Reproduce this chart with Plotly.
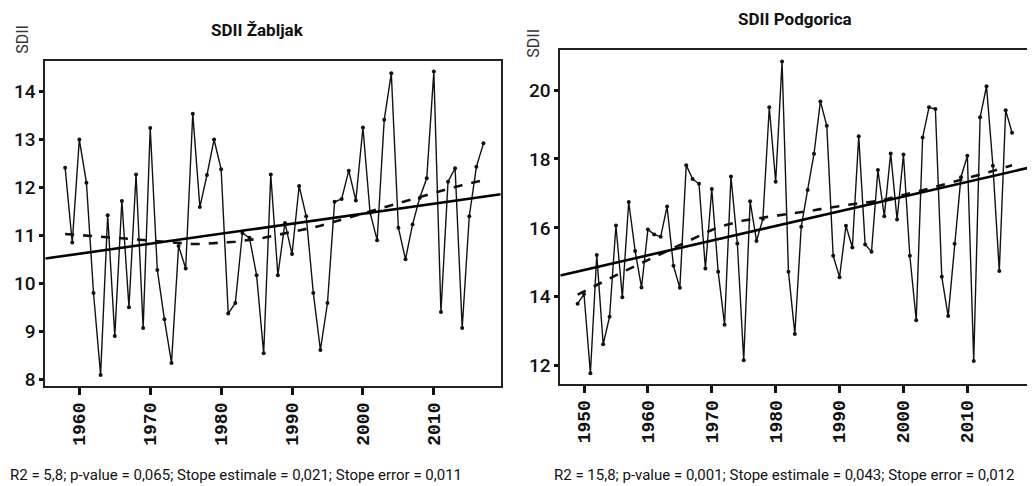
import numpy as np
import plotly.graph_objects as go

# ---------------- data ----------------
years_zab = list(range(1958, 2018))
sdii_zab = [12.41, 10.85, 13.00, 12.10, 9.80, 8.09, 11.42, 8.90, 11.72, 9.50,
            12.27, 9.07, 13.24, 10.28, 9.25, 8.34, 10.78, 10.31, 13.54, 11.59,
            12.26, 13.00, 12.38, 9.37, 9.59, 11.05, 10.95, 10.17, 8.54, 12.27,
            10.17, 11.26, 10.61, 12.03, 11.40, 9.80, 8.61, 9.59, 11.70, 11.76,
            12.35, 11.73, 13.25, 11.48, 10.90, 13.41, 14.38, 11.16, 10.50, 11.23,
            11.78, 12.19, 14.42, 9.40, 12.12, 12.40, 9.07, 11.40, 12.43, 12.92]

years_pg = list(range(1949, 2018))
sdii_pg = [13.80, 14.08, 11.78, 15.21, 12.62, 13.42, 16.07, 13.99, 16.75, 15.33,
           14.27, 15.95, 15.81, 15.74, 16.62, 14.90, 14.26, 17.82, 17.42, 17.28,
           14.82, 17.13, 14.73, 13.19, 17.49, 15.55, 12.16, 16.77, 15.62, 16.26,
           19.50, 17.34, 20.83, 14.73, 12.92, 16.03, 17.10, 18.15, 19.67, 18.96,
           15.19, 14.57, 16.06, 15.43, 18.66, 15.52, 15.31, 17.68, 16.34, 18.16,
           16.24, 18.13, 15.19, 13.32, 18.62, 19.50, 19.45, 14.58, 13.44, 15.54,
           17.47, 18.09, 12.14, 19.21, 20.11, 17.80, 14.75, 19.41, 18.76]

titles = ["SDII Žabljak", "SDII Podgorica"]
ytitle = "SDII"
stats_zab = "R2 = 5,8; p-value = 0,065; Stope estimale = 0,021; Stope error = 0,011"
stats_pg = "R2 = 15,8; p-value = 0,001; Stope estimale = 0,043; Stope error = 0,012"
xticks_zab = [1960, 1970, 1980, 1990, 2000, 2010]
xticks_pg = [1950, 1960, 1970, 1980, 1990, 2000, 2010]
yticks_zab = [8, 9, 10, 11, 12, 13, 14]
yticks_pg = [12, 14, 16, 18, 20]

W, H = 1035, 486


def px(x):
    return x / W


def py(y):
    return 1 - y / H


def lowess(x, y, f=2 / 3, iters=3):
    """Classic Cleveland lowess (local linear, tricube, robustness iterations)."""
    x = np.asarray(x, float)
    y = np.asarray(y, float)
    n = len(x)
    r = int(np.ceil(f * n))
    h = np.array([np.sort(np.abs(x - x[i]))[r - 1] for i in range(n)])
    w = np.clip(np.abs((x[:, None] - x[None, :]) / h[:, None]), 0.0, 1.0)
    w = (1 - w ** 3) ** 3
    yest = np.zeros(n)
    delta = np.ones(n)
    for _ in range(iters + 1):
        for i in range(n):
            weights = delta * w[i, :]
            b = np.array([np.sum(weights * y), np.sum(weights * y * x)])
            A = np.array([[np.sum(weights), np.sum(weights * x)],
                          [np.sum(weights * x), np.sum(weights * x * x)]])
            beta = np.linalg.solve(A, b)
            yest[i] = beta[0] + beta[1] * x[i]
        res = y - yest
        s = np.median(np.abs(res))
        delta = np.clip(res / (6.0 * s), -1, 1)
        delta = (1 - delta ** 2) ** 2
    return yest


fig = go.Figure()

panels = [
    dict(x=years_zab, y=sdii_zab, xr=[1955.2, 2019.43], yr=[7.851, 14.641],
         dom_x=[px(37.3), px(492.7)], dom_y=[py(381.5), py(53.3)],
         xt=xticks_zab, yt=yticks_zab, ax=""),
    dict(x=years_pg, y=sdii_pg, xr=[1946.29, 2019.65], yr=[11.473, 21.163],
         dom_x=[px(552.3), px(1021)], dom_y=[py(379), py(42.3)],
         xt=xticks_pg, yt=yticks_pg, ax="2"),
]

for p in panels:
    xa = "x" + p["ax"]
    ya = "y" + p["ax"]
    xs = np.array(p["x"], float)
    ys = np.array(p["y"], float)
    # data series
    fig.add_trace(go.Scatter(x=xs, y=ys, mode="lines+markers",
                             line=dict(color="#111111", width=1.4),
                             marker=dict(color="#111111", size=4),
                             xaxis=xa, yaxis=ya, showlegend=False))
    # lowess smooth
    fig.add_trace(go.Scatter(x=xs, y=lowess(xs, ys), mode="lines",
                             line=dict(color="#111111", width=2.6, dash="dash"),
                             xaxis=xa, yaxis=ya, showlegend=False))
    # linear trend (abline across full plot)
    b, a = np.polyfit(xs, ys, 1)
    xl = np.array(p["xr"])
    fig.add_trace(go.Scatter(x=xl, y=a + b * xl, mode="lines",
                             line=dict(color="#000000", width=2.6),
                             xaxis=xa, yaxis=ya, showlegend=False))

    axis_common = dict(showgrid=False, zeroline=False, showline=True,
                       linecolor="#222222", linewidth=2, mirror=True,
                       ticks="outside", tickcolor="#111111")
    fig.update_layout(**{
        ("xaxis" + p["ax"]): dict(axis_common, domain=p["dom_x"], range=p["xr"],
                                  anchor=ya, tickvals=p["xt"], ticklen=7, tickwidth=2.5,
                                  tickangle=-90,
                                  tickfont=dict(family="Liberation Mono", size=18,
                                                color="#111111", weight="bold")),
        ("yaxis" + p["ax"]): dict(axis_common, domain=p["dom_y"], range=p["yr"],
                                  anchor=xa, tickvals=p["yt"], ticklen=4, tickwidth=2.5,
                                  tickfont=dict(family="Roboto", size=19, color="#111111",
                                                weight=500)),
    })

ann = []
ann.append(dict(text="<b>" + titles[0] + "</b>", x=px(249), y=py(22), xref="paper", yref="paper",
                xanchor="center", yanchor="middle",
                showarrow=False, font=dict(family="Roboto", size=17, color="#111111")))
ann.append(dict(text="<b>" + titles[1] + "</b>", x=px(787), y=py(11), xref="paper", yref="paper",
                xanchor="center", yanchor="middle",
                showarrow=False, font=dict(family="Roboto", size=17, color="#111111")))
ann.append(dict(text=ytitle, x=px(15), y=py(32), xref="paper", yref="paper", textangle=-90,
                xanchor="center", yanchor="middle",
                showarrow=False, font=dict(family="Roboto", size=16, color="#333333")))
ann.append(dict(text=ytitle, x=px(526), y=py(36), xref="paper", yref="paper", textangle=-90,
                xanchor="center", yanchor="middle",
                showarrow=False, font=dict(family="Roboto", size=16, color="#333333")))
ann.append(dict(text=stats_zab, x=0, y=py(471), xref="paper", yref="paper", xanchor="left",
                yanchor="middle",
                showarrow=False, font=dict(family="Roboto", size=15, color="#111111")))
ann.append(dict(text=stats_pg, x=px(544), y=py(471), xref="paper", yref="paper", xanchor="left",
                yanchor="middle",
                showarrow=False, font=dict(family="Roboto", size=15, color="#111111")))

fig.update_layout(width=W, height=H, margin=dict(l=0, r=0, t=0, b=0),
                  paper_bgcolor="white", plot_bgcolor="white", annotations=ann,
                  showlegend=False)

fig.write_html("out.html")
